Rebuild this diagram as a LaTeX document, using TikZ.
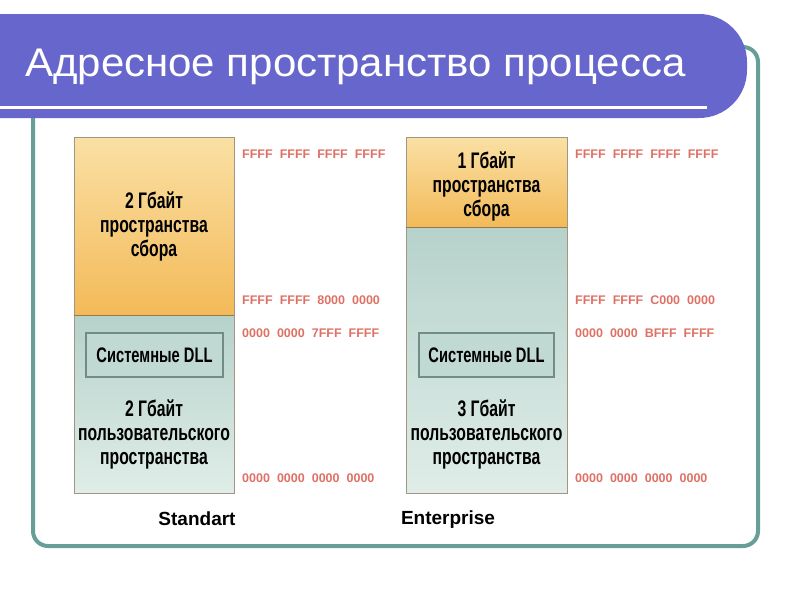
\documentclass[tikz,border=0pt]{standalone}
\usepackage{fontspec}
\setmainfont{Liberation Sans}
\newfontfamily\narrowfont[FakeStretch=0.7]{Liberation Sans}
\newfontfamily\widefont[FakeStretch=1.05]{Liberation Sans}
\usetikzlibrary{positioning}

\definecolor{banner}{RGB}{102,102,204}
\definecolor{frame}{RGB}{104,158,152}
\definecolor{kernlight}{RGB}{250,224,165}
\definecolor{kerndark}{RGB}{243,186,88}
\definecolor{userdark}{RGB}{182,210,202}
\definecolor{userlight}{RGB}{224,237,233}
\definecolor{dllfill}{RGB}{192,217,210}
\definecolor{dlledge}{RGB}{112,140,132}
\definecolor{addr}{RGB}{222,112,100}
\definecolor{edge}{RGB}{160,150,130}
\definecolor{seam}{RGB}{150,120,80}

\newcommand\addr[4]{#1\hspace{7pt}#2\hspace{7pt}#3\hspace{7pt}#4}

\tikzset{
  kernel/.style={draw=edge, line width=0.8pt, top color=kernlight, bottom color=kerndark, inner sep=0pt},
  user/.style={draw=edge, line width=0.8pt, top color=userdark, bottom color=userlight, inner sep=0pt},
  dll/.style={draw=dlledge, line width=1.3pt, fill=dllfill, minimum height=44pt, inner sep=0pt,
    font=\narrowfont\bfseries\fontsize{21}{21}\selectfont},
  boxtext/.style={align=center, inner sep=0pt, font=\narrowfont\bfseries\fontsize{22.5}{24}\selectfont},
  address/.style={anchor=west, text=addr, inner sep=0pt, font=\bfseries\fontsize{12.5}{12.5}\selectfont},
  caption/.style={anchor=base, font=\bfseries\fontsize{19}{19}\selectfont}
}

\begin{document}
\begin{tikzpicture}[x=1pt, y=-1pt]
\useasboundingbox (0,0) rectangle (800,600);
% frame and title bar
\draw[frame, line width=4pt, rounded corners=15pt] (33,47) rectangle (758,546);
\fill[banner, rounded corners=48pt] (-60,14) rectangle (747,118);
\draw[white, line width=3pt] (0,107) -- (707,107);
\node[white, anchor=base west, inner sep=0pt, font=\widefont\fontsize{40}{40}\selectfont] (title) at (25,76)
  {Адресное пространство процесса};

% Standart
\node[kernel, minimum width=160pt, minimum height=178pt] (stdkern) at (154,226) {};
\node[user, minimum width=160pt, minimum height=178pt] (stduser) at (154,404) {};
\draw[seam, line width=1.2pt] (stdkern.south west) -- (stdkern.south east);
\node[boxtext] (stdkerntext) at (154,226) {2 Гбайт\\пространства\\сбора};
\node[dll, minimum width=137pt] (stddll) at (154.5,355) {Системные DLL};
\node[boxtext] (stdusertext) at (154,434) {2 Гбайт\\пользовательского\\пространства};
\node[address] (stda) at (242,154) {\addr{FFFF}{FFFF}{FFFF}{FFFF}};
\node[address] (stdb) at (242,300) {\addr{FFFF}{FFFF}{8000}{0000}};
\node[address] (stdc) at (242,333) {\addr{0000}{0000}{7FFF}{FFFF}};
\node[address] (stdd) at (242,478) {\addr{0000}{0000}{0000}{0000}};
\node[caption] (std) at (197,525) {Standart};

% Enterprise
\node[kernel, minimum width=161pt, minimum height=90pt] (entkern) at (486.5,182) {};
\node[user, minimum width=161pt, minimum height=266pt] (entuser) at (486.5,360) {};
\draw[seam, line width=1.2pt] (entkern.south west) -- (entkern.south east);
\node[boxtext] (entkerntext) at (486.5,186) {1 Гбайт\\пространства\\сбора};
\node[dll, minimum width=135pt] (entdll) at (486.5,355) {Системные DLL};
\node[boxtext] (entusertext) at (486.5,434) {3 Гбайт\\пользовательского\\пространства};
\node[address] (enta) at (575,154) {\addr{FFFF}{FFFF}{FFFF}{FFFF}};
\node[address] (entb) at (575,300) {\addr{FFFF}{FFFF}{C000}{0000}};
\node[address] (entc) at (575,333) {\addr{0000}{0000}{BFFF}{FFFF}};
\node[address] (entd) at (575,478) {\addr{0000}{0000}{0000}{0000}};
\node[caption] (ent) at (448,524) {Enterprise};
\end{tikzpicture}
\end{document}
